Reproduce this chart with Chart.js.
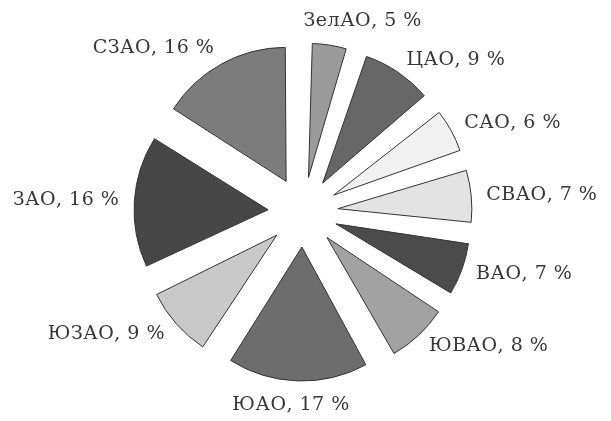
<!DOCTYPE html>
<html lang="ru">
<head>
<meta charset="utf-8">
<title>Округа</title>
<script src="https://cdn.jsdelivr.net/npm/chart.js@4.4.1/dist/chart.umd.min.js"></script>
<style>
  html, body { margin: 0; padding: 0; background: #fff; }
  #wrap { width: 611px; height: 421px; position: relative; }
</style>
</head>
<body>
<div id="wrap"><canvas id="pieChart"></canvas></div>
<script>
// ─── Data ───
const districts = ['ЗелАО', 'ЦАО', 'САО', 'СВАО', 'ВАО', 'ЮВАО', 'ЮАО', 'ЮЗАО', 'ЗАО', 'СЗАО'];
const shares = [5, 9, 6, 7, 7, 8, 17, 9, 16, 16];
const fills = ['#9b9b9b', '#676767', '#f1f1f1', '#e3e3e3', '#4b4b4b', '#a2a2a2', '#6d6d6d', '#c9c9c9', '#474747', '#7c7c7c'];

const PIE_RADIUS = 134;
const EXPLODE = 140;      // chart.js divides by 4 -> 35px
const LABEL_R = 184;
const LABEL_FONT = '19px "DejaVu Serif", serif';

const clamp = (v, a, b) => Math.max(a, Math.min(b, v));

// keep every slice the same radius (v4 grows small slices with offset)
const sameRadius = {
  id: 'sameRadius',
  beforeDatasetsDraw(chart) {
    chart.getDatasetMeta(0).data.forEach(arc => {
      const off = (arc.options.offset || 0) / 4;
      const fix = 1 - Math.sin(Math.min(Math.PI, arc.circumference));
      arc.outerRadius = PIE_RADIUS - off * fix;
    });
  }
};

// ─── Outside labels ───
const outsideLabels = {
  id: 'outsideLabels',
  afterDatasetsDraw(chart) {
    const ctx = chart.ctx;
    const meta = chart.getDatasetMeta(0);
    ctx.save();
    ctx.font = LABEL_FONT;
    ctx.letterSpacing = '0.5px';
    ctx.fillStyle = '#363636';
    ctx.textAlign = 'left';
    ctx.textBaseline = 'middle';
    meta.data.forEach((arc, i) => {
      const mid = (arc.startAngle + arc.endAngle) / 2;
      const dx = Math.cos(mid), dy = Math.sin(mid);
      const ax = arc.x + dx * LABEL_R;
      const ay = arc.y + dy * LABEL_R;
      const text = `${districts[i]}, ${shares[i]} %`;
      const w = ctx.measureText(text).width;
      const h = 18;
      const f = clamp(0.5 - 1.67 * dx, 0, 1);
      const k = clamp((Math.abs(dy) - 0.83) / 0.15, 0, 1);
      const v = 0.5 + 0.5 * k * (dy < 0 ? 1 : -1);
      ctx.fillText(text, ax - f * w, ay - v * h + h / 2);
    });
    ctx.restore();
  }
};

const chart = new Chart(document.getElementById('pieChart'), {
  type: 'pie',
  data: {
    labels: districts,
    datasets: [{
      data: shares,
      backgroundColor: fills,
      borderColor: '#333',
      borderWidth: 1,
      offset: EXPLODE
    }]
  },
  options: {
    responsive: true,
    maintainAspectRatio: false,
    animation: false,
    radius: PIE_RADIUS,
    layout: { padding: { left: 0, right: 5, top: 3, bottom: 0 } },
    plugins: {
      legend: { display: false },
      tooltip: { enabled: false }
    }
  },
  plugins: [sameRadius, outsideLabels]
});
</script>
</body>
</html>
